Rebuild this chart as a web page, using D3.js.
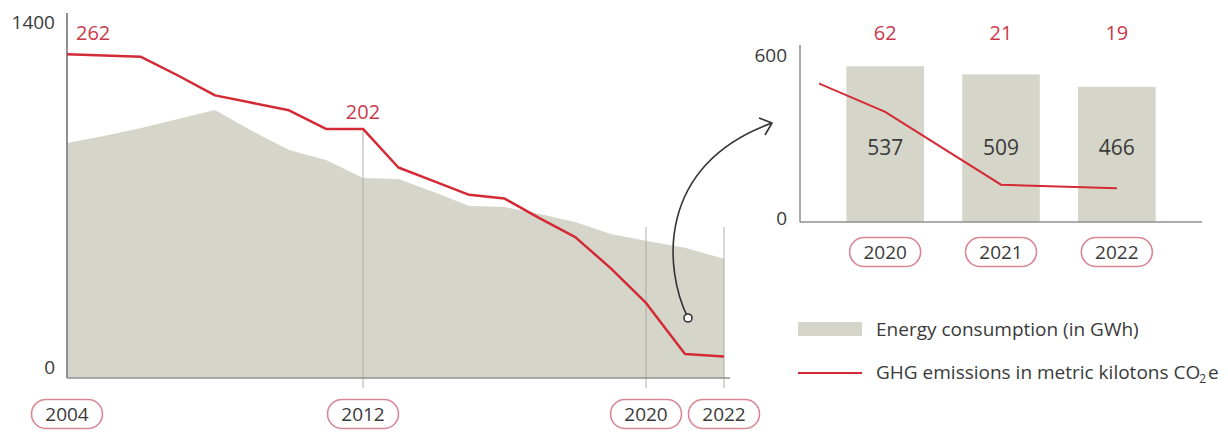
<!DOCTYPE html>
<html><head><meta charset="utf-8">
<script src="https://cdn.jsdelivr.net/npm/d3@7"></script>
<style>
html,body{margin:0;padding:0;background:#fff;}
svg{display:block;font-family:"Open Sans",sans-serif;}
</style></head><body>
<svg id="chart" width="1228" height="432"></svg>
<script>
// ---------- data ----------
const years = [2004,2005,2006,2007,2008,2009,2010,2011,2012,2013,2014,2015,2016,2017,2018,2019,2020,2021,2022];
const energy = [919,946,978,1013,1048,966,892,853,782,778,727,673,669,641,610,563,537,509,466];
const ghg = [262,261,260,245,229,223,217,202,202,171,160,149,146,130,115,90,62,21,19];
const mainTicks = [0,1400];
const mainYearLabels = [2004,2012,2020,2022];
const ghgLabelYears = [2004,2012];
const insetYears = [2020,2021,2022];
const insetEnergy = [537,509,466];
const insetGhg = [62,21,19];
const insetTicks = [0,600];
const legendEnergy = "Energy consumption (in GWh)";
const legendGhg = "GHG emissions in metric kilotons CO";

// ---------- style ----------
const C = {area:"#d5d5c9", red:"#d42a35", label:"#c93a4b", pill:"#d98794",
           text:"#3a3a3a", axis:"#8f8f8f", ref:"#aeaea6"};

const svg = d3.select("#chart");

// ---------- main chart ----------
const x = d3.scaleLinear().domain([2004,2012,2020,2022]).range([67,363,646,724]);
const yE = d3.scaleLinear().domain([0,1400]).range([378,20]);
const yG = d3.scaleLinear().domain([0,280]).range([380,32]);

const main = svg.append("g");

main.append("path")
  .datum(energy)
  .attr("fill", C.area)
  .attr("d", d3.area().x((d,i)=>x(years[i])).y0(yE(0)).y1(d=>yE(d)));

// reference verticals
main.selectAll("line.ref").data(mainYearLabels.slice(1)).join("line")
  .attr("class","ref")
  .attr("x1", d=>x(d)).attr("x2", d=>x(d))
  .attr("y1", d=> d===2012 ? yG(ghg[years.indexOf(2012)]) : 227)
  .attr("y2", 388)
  .attr("stroke", C.ref).attr("stroke-width", 1);

// axes
main.append("line").attr("x1",x(2004)).attr("x2",x(2004)).attr("y1",13).attr("y2",yE(0))
  .attr("stroke",C.axis).attr("stroke-width",2);
main.append("line").attr("x1",x(2004)).attr("x2",730).attr("y1",yE(0)).attr("y2",yE(0))
  .attr("stroke",C.axis).attr("stroke-width",1.5);

const ya = main.append("g").attr("transform",`translate(${x(2004)},0)`)
  .call(d3.axisLeft(yE).tickValues(mainTicks).tickSize(0).tickPadding(12).tickFormat(d3.format("d")));
ya.select(".domain").remove();
ya.selectAll("text").attr("font-size",19).attr("fill",C.text)
  .attr("font-family","'Open Sans',sans-serif")
  .attr("y", d=> d===0 ? -11 : 2);

// GHG line
main.append("path")
  .datum(ghg)
  .attr("fill","none").attr("stroke",C.red).attr("stroke-width",2.5)
  .attr("stroke-linejoin","round")
  .attr("d", d3.line().x((d,i)=>x(years[i])).y(d=>yG(d)));

// GHG value labels
main.selectAll("text.gl").data(ghgLabelYears).join("text")
  .attr("class","gl")
  .attr("x", d=> d===2004 ? x(d)+9 : x(d))
  .attr("y", d=> yG(ghg[years.indexOf(d)]) - (d===2004 ? 21 : 17))
  .attr("dy","0.35em")
  .attr("text-anchor", d=> d===2004 ? "start" : "middle")
  .attr("font-size",20).attr("fill",C.label)
  .text(d=>ghg[years.indexOf(d)]);

function pills(g, data, cxf, cy){
  const p = g.selectAll(null).data(data).join("g")
    .attr("transform", d=>`translate(${cxf(d)},${cy})`);
  p.append("rect").attr("x",-35.5).attr("y",-14.5).attr("width",71).attr("height",29)
    .attr("rx",14.5).attr("fill","#fff").attr("stroke",C.pill).attr("stroke-width",1.6);
  p.append("text").attr("text-anchor","middle").attr("dy","0.36em")
    .attr("font-size",19).attr("fill",C.text).text(d=>d);
}
pills(main, mainYearLabels, d=>x(d), 414);

// ---------- inset ----------
const xb = d3.scaleBand().domain(insetYears).range([800,1202]).paddingInner(0.33).paddingOuter(0.4);
const bw = xb.bandwidth();
const yI = d3.scaleLinear().domain([0,600]).range([222,48]);
const yIG = d3.scaleLinear().domain([0,98]).range([222,48]);
const xl = d3.scaleLinear().domain([2020,2022]).range([xb(2020)+bw/2, xb(2022)+bw/2]);

const inset = svg.append("g");
inset.selectAll("rect.bar").data(insetEnergy).join("rect")
  .attr("class","bar")
  .attr("x",(d,i)=>xb(insetYears[i])).attr("width",bw)
  .attr("y",d=>yI(d)).attr("height",d=>yI(0)-yI(d))
  .attr("fill",C.area);

inset.selectAll("text.bv").data(insetEnergy).join("text")
  .attr("class","bv")
  .attr("x",(d,i)=>xb(insetYears[i])+bw/2).attr("y",148).attr("dy","0.35em")
  .attr("text-anchor","middle").attr("font-size",21).attr("fill",C.text).text(d=>d);

inset.selectAll("text.gv").data(insetGhg).join("text")
  .attr("class","gv")
  .attr("x",(d,i)=>xb(insetYears[i])+bw/2).attr("y",33).attr("dy","0.35em")
  .attr("text-anchor","middle").attr("font-size",20).attr("fill",C.label).text(d=>d);

inset.append("line").attr("x1",800).attr("x2",800).attr("y1",45).attr("y2",yI(0))
  .attr("stroke",C.axis).attr("stroke-width",1.5);
inset.append("line").attr("x1",800).attr("x2",1202).attr("y1",yI(0)).attr("y2",yI(0))
  .attr("stroke",C.axis).attr("stroke-width",1.5);

const yia = inset.append("g").attr("transform","translate(800,0)")
  .call(d3.axisLeft(yI).tickValues(insetTicks).tickSize(0).tickPadding(13));
yia.select(".domain").remove();
yia.selectAll("text").attr("font-size",19).attr("fill",C.text)
  .attr("font-family","'Open Sans',sans-serif")
  .attr("y", d=> d===0 ? -4 : 7);

svg.append("defs").append("clipPath").attr("id","insetClip")
  .append("rect").attr("x",819).attr("y",0).attr("width",383).attr("height",232);

const lineYears = [2019].concat(insetYears);
const lineVals = lineYears.map(yr=>ghg[years.indexOf(yr)]);
inset.append("path")
  .datum(lineVals)
  .attr("clip-path","url(#insetClip)")
  .attr("fill","none").attr("stroke",C.red).attr("stroke-width",2)
  .attr("d", d3.line().x((d,i)=>xl(lineYears[i])).y(d=>yIG(d)));

pills(inset, insetYears, d=>xb(d)+bw/2, 252);

// ---------- arrow annotation ----------
const ann = svg.append("g").attr("fill","none").attr("stroke","#333").attr("stroke-width",1.6);
ann.append("path").attr("d","M688,318 C664,270 655,165 772,123");
ann.append("polyline").attr("points","759,118 772,123 765,135").attr("stroke-linejoin","round");
ann.append("circle").attr("cx",688).attr("cy",318).attr("r",4).attr("fill","#fff");

// ---------- legend ----------
const lg = svg.append("g");
lg.append("rect").attr("x",798).attr("y",322).attr("width",64).attr("height",14).attr("fill",C.area);
lg.append("text").attr("x",876).attr("y",329).attr("dy","0.35em").attr("font-size",19)
  .attr("fill",C.text).text(legendEnergy);
lg.append("line").attr("x1",798).attr("x2",862).attr("y1",373).attr("y2",373)
  .attr("stroke",C.red).attr("stroke-width",2);
const gt = lg.append("text").attr("x",876).attr("y",372).attr("dy","0.35em").attr("font-size",19)
  .attr("fill",C.text);
gt.append("tspan").text(legendGhg);
gt.append("tspan").attr("font-size",12).attr("dy",4).attr("dx",-1).text("2");
gt.append("tspan").attr("dy",-4).attr("dx",2).text("e");
</script>
</body></html>
